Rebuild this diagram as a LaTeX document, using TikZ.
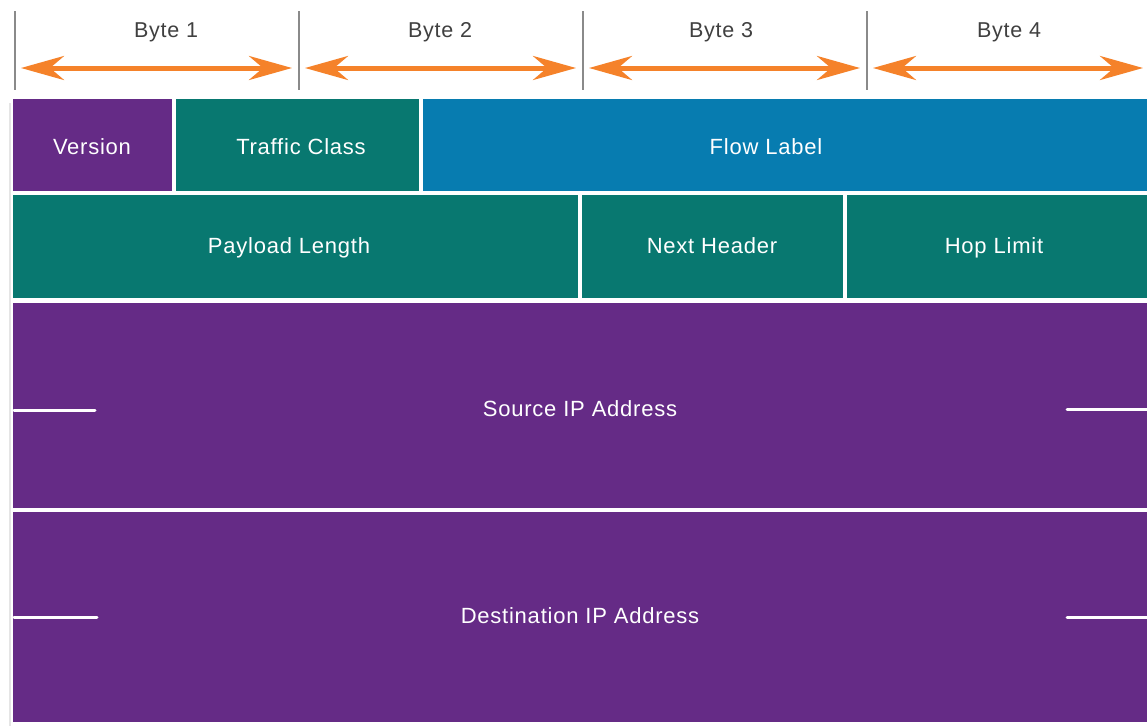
\documentclass[tikz,border=0pt]{standalone}
\usepackage{fontspec}
\setmainfont{Liberation Sans}[LetterSpace=3.5]
\usetikzlibrary{arrows.meta}
\definecolor{ipurple}{HTML}{652B86}
\definecolor{iteal}{HTML}{087870}
\definecolor{iblue}{HTML}{077CB0}
\definecolor{iorange}{HTML}{F5822A}
\definecolor{itick}{HTML}{8A8A8A}
\definecolor{itext}{HTML}{404040}
\tikzset{
  box/.style={inner sep=0pt, outer sep=0pt, anchor=north west, draw=none},
  fieldtext/.style={text=white, font=\fontsize{22}{26}\selectfont, inner sep=0pt, anchor=base},
  bytetext/.style={text=itext, font=\fontsize{21.5}{25}\selectfont, inner sep=0pt, anchor=base},
  tickline/.style={draw=itick, line width=2pt},
  bytearrow/.style={draw=iorange, line width=5pt, {Stealth[length=43pt,width=24pt,inset=14pt]}-{Stealth[length=43pt,width=24pt,inset=14pt]}},
  dashline/.style={draw=white, line width=3pt, line cap=round},
}
\begin{document}
\begin{tikzpicture}[x=1pt,y=-1pt]
\useasboundingbox (0,0) rectangle (1147,726);
\fill[white] (0,0) rectangle (1147,726);
% ticks
\foreach \i/\x in {1/15,2/299,3/583,4/867}{
  \coordinate (t\i a) at (\x,11);
  \coordinate (t\i b) at (\x,90);
  \draw[tickline] (t\i a) -- (t\i b);
}
% arrows
\coordinate (a1l) at (21,68); \coordinate (a1r) at (292,68);
\coordinate (a2l) at (305,68); \coordinate (a2r) at (576,68);
\coordinate (a3l) at (589,68); \coordinate (a3r) at (860,68);
\coordinate (a4l) at (873,68); \coordinate (a4r) at (1143,68);
\draw[bytearrow] (a1l) -- (a1r);
\draw[bytearrow] (a2l) -- (a2r);
\draw[bytearrow] (a3l) -- (a3r);
\draw[bytearrow] (a4l) -- (a4r);
\node[bytetext] (b1) at (166,37) {Byte 1};
\node[bytetext] (b2) at (440,37) {Byte 2};
\node[bytetext] (b3) at (721,37) {Byte 3};
\node[bytetext] (b4) at (1009,37) {Byte 4};
% left faint line
\coordinate (ll1) at (10,103); \coordinate (ll2) at (10,726);
\draw[draw=black!10, line width=2pt] (ll1) -- (ll2);
% row 1
\node[box, fill=ipurple, minimum width=159pt, minimum height=92pt] (ver) at (13,99) {};
\node[box, fill=iteal, minimum width=243pt, minimum height=92pt] (tc) at (176,99) {};
\node[box, fill=iblue, minimum width=724pt, minimum height=92pt] (fl) at (423,99) {};
% row 2
\node[box, fill=iteal, minimum width=565pt, minimum height=103pt] (pl) at (13,195) {};
\node[box, fill=iteal, minimum width=261pt, minimum height=103pt] (nh) at (582,195) {};
\node[box, fill=iteal, minimum width=300pt, minimum height=103pt] (hl) at (847,195) {};
% rows 3,4
\node[box, fill=ipurple, minimum width=1134pt, minimum height=205pt] (src) at (13,303) {};
\node[box, fill=ipurple, minimum width=1134pt, minimum height=210pt] (dst) at (13,512) {};
% texts
\node[fieldtext] (tver) at (92,154) {Version};
\node[fieldtext] (ttc) at (301,154) {Traffic Class};
\node[fieldtext] (tfl) at (766,154) {Flow Label};
\node[fieldtext] (tpl) at (289,253) {Payload Length};
\node[fieldtext] (tnh) at (712,253) {Next Header};
\node[fieldtext] (thl) at (994,253) {Hop Limit};
\node[fieldtext] (tsrc) at (580,416) {Source IP Address};
\node[fieldtext] (tdst) at (580,623) {Destination IP Address};
% dashes
\coordinate (d1a) at (14,410); \coordinate (d1b) at (95,410);
\coordinate (d2a) at (1067,409); \coordinate (d2b) at (1147,409);
\coordinate (d3a) at (14,617); \coordinate (d3b) at (97,617);
\coordinate (d4a) at (1067,617); \coordinate (d4b) at (1147,617);
\draw[dashline] (d1a) -- (d1b);
\draw[dashline] (d2a) -- (d2b);
\draw[dashline] (d3a) -- (d3b);
\draw[dashline] (d4a) -- (d4b);
\end{tikzpicture}
\end{document}
